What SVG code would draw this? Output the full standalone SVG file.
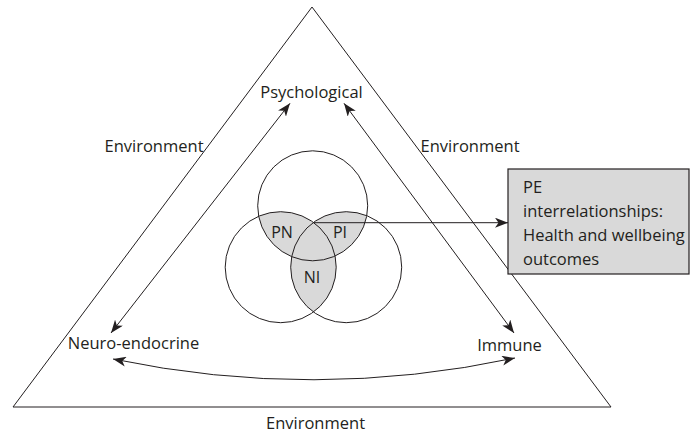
<svg xmlns="http://www.w3.org/2000/svg" width="690" height="433" viewBox="0 0 690 433">
<style>
.t{font-family:"Open Sans","Noto Sans","Liberation Sans",sans-serif;font-size:16.5px;fill:#231f20}
.s{font-size:16px}
.tc{text-anchor:middle}
.ln{fill:none;stroke:#231f20;stroke-width:1}
.sh{fill:#d9d9d9;stroke:none}
</style>
<defs>
<marker id="ah" viewBox="0 0 13 10" refX="13" refY="5" markerWidth="13" markerHeight="10" markerUnits="userSpaceOnUse" orient="auto-start-reverse">
<path d="M0,0 L13,5 L0,10 L3.5,5 Z" fill="#231f20"/>
</marker>
<clipPath id="cT"><circle cx="312.7" cy="205.8" r="55"/></clipPath>
<clipPath id="cL"><circle cx="280.7" cy="267.2" r="55.5"/></clipPath>
</defs>
<rect width="690" height="433" fill="#fff"/>
<g id="triangle">
<polygon points="312,7 13,407 611,407" class="ln"/>
</g>
<g id="environment-labels">
<text class="t tc" x="154" y="152">Environment</text>
<text class="t tc" x="470" y="152">Environment</text>
<text class="t tc" x="315.5" y="429">Environment</text>
</g>
<g id="venn">
<circle cx="312.7" cy="205.8" r="55" class="sh" clip-path="url(#cL)"/>
<circle cx="346.2" cy="267.2" r="55.5" class="sh" clip-path="url(#cT)"/>
<circle cx="346.2" cy="267.2" r="55.5" class="sh" clip-path="url(#cL)"/>
<circle cx="312.7" cy="205.8" r="55" class="ln"/>
<circle cx="280.7" cy="267.2" r="55.5" class="ln"/>
<circle cx="346.2" cy="267.2" r="55.5" class="ln"/>
<text class="t s tc" x="282" y="238">PN</text>
<text class="t s tc" x="340" y="238">PI</text>
<text class="t s tc" x="312" y="282.5">NI</text>
</g>
<g id="node-psychological">
<text class="t tc" x="311.5" y="98">Psychological</text>
</g>
<g id="node-neuro-endocrine">
<text class="t tc" x="133.5" y="349">Neuro-endocrine</text>
</g>
<g id="node-immune">
<text class="t tc" x="509.5" y="351">Immune</text>
</g>
<g id="node-outcomes">
<rect x="508" y="169" width="181" height="105" fill="#d9d9d9" stroke="#231f20" stroke-width="1.2"/>
<text class="t" x="523" y="192.5">PE</text>
<text class="t" x="523" y="216.7">interrelationships:</text>
<text class="t" x="523" y="240.8">Health and wellbeing</text>
<text class="t" x="523" y="265">outcomes</text>
</g>
<g id="connectors">
<line x1="290" y1="103.3" x2="111" y2="333" class="ln" marker-start="url(#ah)" marker-end="url(#ah)"/>
<line x1="344" y1="103.3" x2="514" y2="333" class="ln" marker-start="url(#ah)" marker-end="url(#ah)"/>
<path d="M113,359 Q314,401 515,358" class="ln" marker-start="url(#ah)" marker-end="url(#ah)"/>
<line x1="314" y1="222.7" x2="508" y2="222.7" class="ln" marker-end="url(#ah)"/>
</g>
</svg>
